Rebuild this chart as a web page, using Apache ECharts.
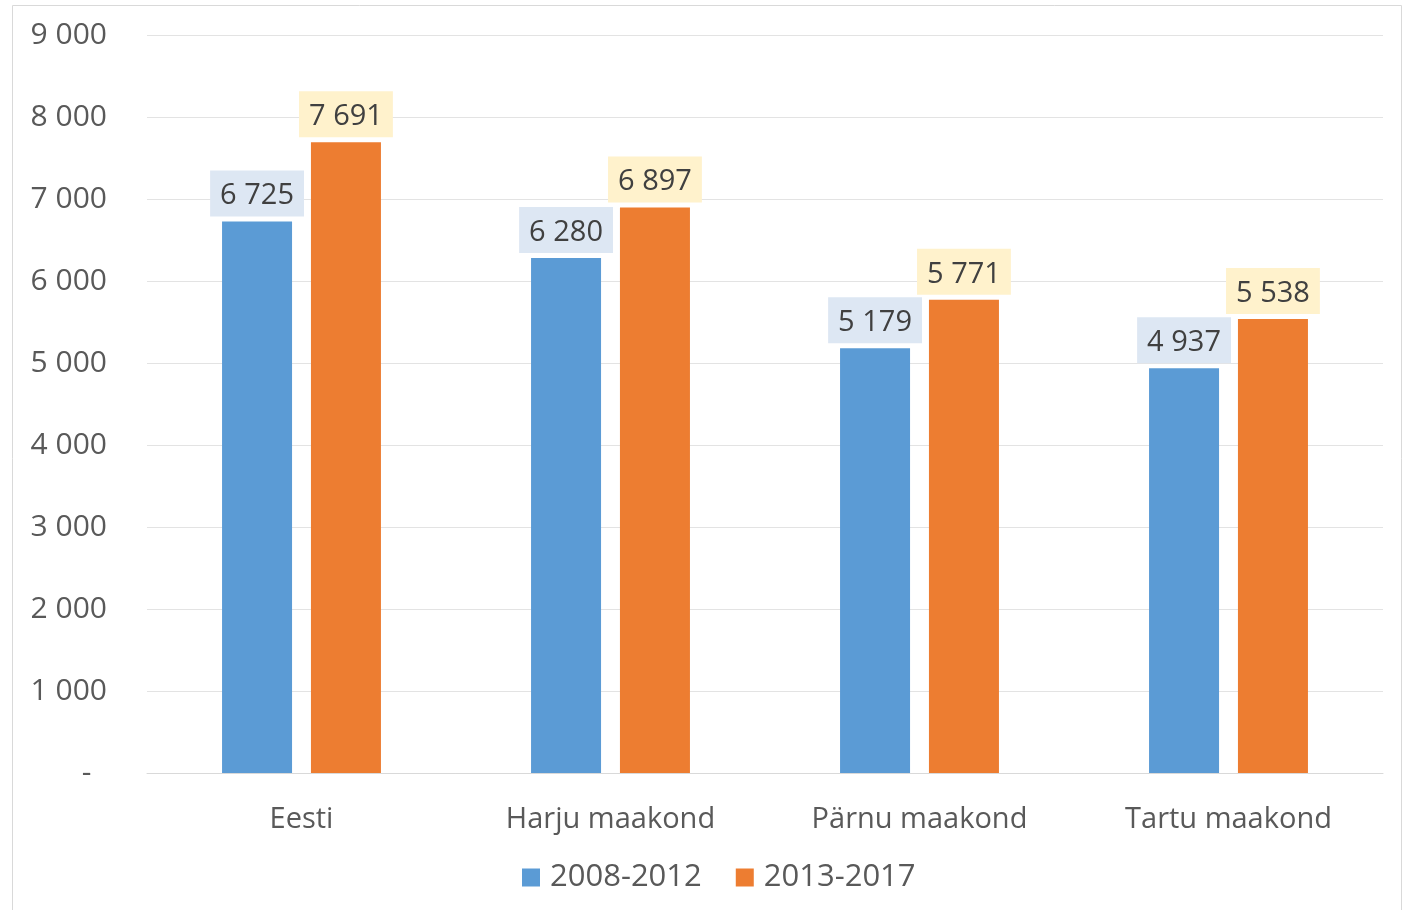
<!DOCTYPE html>
<html>
<head>
<meta charset="utf-8">
<script src="https://cdn.jsdelivr.net/npm/echarts@6/dist/echarts.min.js"></script>
<style>
html,body{margin:0;padding:0;background:#fff;}
#chart{width:1404px;height:910px;}
</style>
</head>
<body>
<div id="chart"></div>
<script>
var categories = ['Eesti', 'Harju maakond', 'Pärnu maakond', 'Tartu maakond'];
var seriesNames = ['2008-2012', '2013-2017'];
var values2008 = [6725, 6280, 5179, 4937];
var values2013 = [7691, 6897, 5771, 5538];

var FONT = '"Open Sans", "Noto Sans", sans-serif';

function fmt(v){
    // tuhandete eraldaja tühikuga
    return String(v).replace(/\B(?=(\d{3})+(?!\d))/g, ' ');
}

function makeLabel(bg){
    return {
        show: true,
        position: 'top',
        distance: 5,
        formatter: function(p){ return fmt(p.value); },
        fontFamily: FONT,
        fontSize: 29,
        color: '#404040',
        backgroundColor: bg,
        padding: [11, 10, 6, 10]
    };
}

var myechart = echarts.init(document.getElementById('chart'));
myechart.setOption({
    animation: false,
    textStyle: { fontFamily: FONT },
    graphic: [{
        type: 'rect',
        shape: { x: 12.5, y: 5.5, width: 1389, height: 920 },
        style: { fill: 'none', stroke: '#d9d9d9', lineWidth: 1 },
        silent: true
    }],
    grid: { left: 147, right: 21, top: 35, bottom: 137 },
    legend: {
        bottom: 12,
        left: 517,
        icon: 'rect',
        itemWidth: 18,
        itemHeight: 18,
        itemGap: 34,
        textStyle: { fontFamily: FONT, fontSize: 31, color: '#595959', padding: [0, 0, 0, 5] },
        data: seriesNames
    },
    xAxis: {
        type: 'category',
        data: categories,
        axisLine: { lineStyle: { color: '#d9d9d9' } },
        axisTick: { show: false },
        axisLabel: { fontFamily: FONT, fontSize: 29, color: '#595959', margin: 32 }
    },
    yAxis: {
        type: 'value',
        min: 0,
        max: 9000,
        interval: 1000,
        axisLine: { show: false },
        axisTick: { show: false },
        splitLine: { lineStyle: { color: '#e3e3e3' } },
        axisLabel: {
            fontFamily: FONT, fontSize: 30, color: '#595959', margin: 40,
            padding: [4, 0, 0, 0],
            formatter: function(v){ return v === 0 ? '-  ' : fmt(v); }
        }
    },
    series: [
        {
            name: seriesNames[0],
            type: 'bar',
            data: values2008,
            barWidth: 70,
            barGap: '27%',
            itemStyle: { color: '#5b9bd5' },
            label: makeLabel('#dde7f3')
        },
        {
            name: seriesNames[1],
            type: 'bar',
            data: values2013,
            barWidth: 70,
            barGap: '27%',
            itemStyle: { color: '#ed7d31' },
            label: makeLabel('#fff2cc')
        }
    ]
});
</script>
</body>
</html>
